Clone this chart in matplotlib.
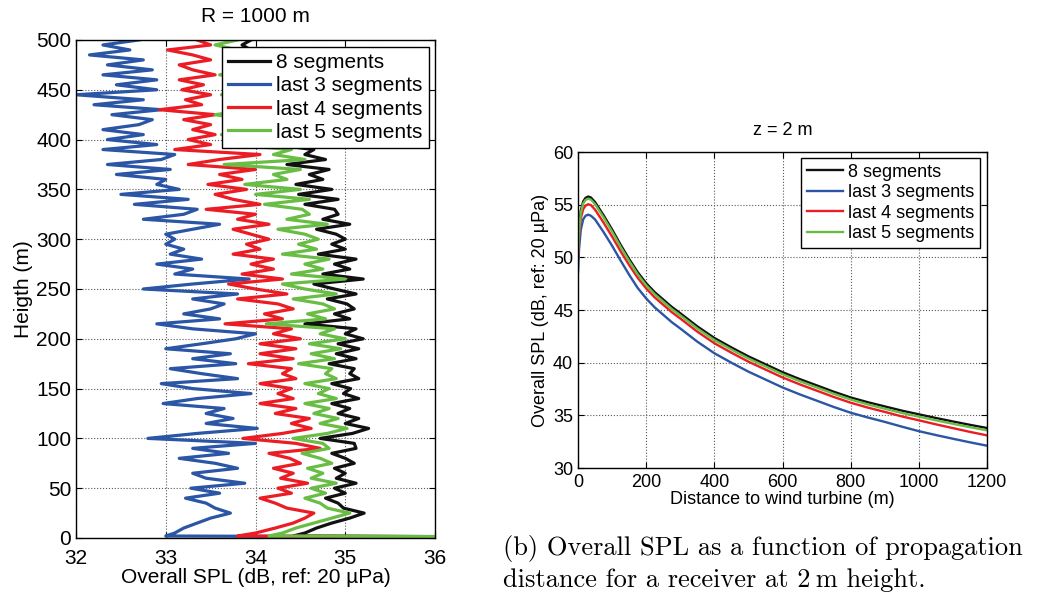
import numpy as np
import matplotlib
matplotlib.use("Agg")
import matplotlib.pyplot as plt

plt.rcParams['font.family'] = ['Liberation Sans', 'DejaVu Sans']

# ---- left panel: SPL profile vs height at R = 1000 m ----
heights = np.r_[0, 2, np.arange(5, 501, 5)]

spl_8seg = [40.0, 34.42, 34.55, 34.68, 34.85, 35.05, 35.21, 34.98, 34.92, 34.78, 35.0,
            34.88, 35.12, 34.9, 35.0, 34.88, 35.1, 35.0, 34.85, 35.12, 35.1,
            34.72, 35.08, 35.26, 35.0, 35.15, 34.92, 35.05, 34.85, 35.15, 34.98,
            35.06, 34.85, 35.15, 35.05, 35.1, 34.82, 35.12, 34.9, 35.15, 34.92,
            35.2, 35.0, 35.12, 34.55, 35.05, 34.88, 35.1, 35.02, 34.8, 35.12,
            34.88, 34.65, 35.2, 34.75, 35.05, 34.88, 35.12, 34.7, 35.0, 34.85,
            35.0, 34.9, 34.68, 35.05, 34.75, 34.92, 34.88, 34.55, 34.92, 34.48,
            34.85, 34.45, 34.75, 34.6, 34.82, 34.35, 34.78, 34.55, 34.65, 34.2,
            34.2, 33.95, 34.25, 34.05, 34.2, 33.9, 34.25, 34.0, 34.15, 33.95,
            34.2, 34.05, 34.25, 33.92, 34.15, 33.95, 34.1, 33.95, 33.95, 33.85,
            33.95]

spl_last3 = [40.0, 33.0, 33.1, 33.2, 33.35, 33.5, 33.72, 33.55, 33.45, 33.22, 33.6,
             33.28, 33.88, 33.45, 33.3, 33.8, 33.55, 33.15, 33.7, 33.3, 34.0,
             32.8, 33.35, 34.02, 33.45, 33.75, 33.45, 33.65, 32.97, 33.35, 33.95,
             33.3, 32.95, 33.8, 33.4, 33.05, 33.78, 33.3, 33.72, 33.0, 33.4,
             33.78, 34.0, 33.3, 32.9, 33.6, 33.2, 33.5, 33.65, 33.3, 33.8,
             32.75, 33.3, 33.93, 33.1, 33.3, 32.9, 33.4, 33.05, 33.2, 33.0,
             33.1, 33.0, 33.3, 33.6, 32.75, 33.2, 33.35, 32.65, 33.25, 32.5,
             33.15, 32.9, 33.0, 32.45, 33.05, 32.35, 32.95, 33.1, 32.3, 32.9,
             32.35, 32.75, 32.3, 32.7, 32.85, 32.4, 32.95, 32.2, 32.75, 32.0,
             32.9, 32.45, 32.9, 32.3, 32.85, 32.35, 32.75, 32.15, 32.6, 32.3,
             32.7]

spl_last4 = [40.0, 33.8, 34.0, 34.22, 34.42, 34.55, 34.65, 34.35, 34.22, 34.05, 34.4,
             34.25, 34.58, 34.28, 34.42, 34.2, 34.5, 34.38, 34.15, 34.72, 34.45,
             33.86, 34.3, 34.62, 34.4, 34.6, 34.22, 34.45, 34.05, 34.42, 34.25,
             34.4, 34.05, 34.45, 34.3, 34.4, 33.92, 34.42, 34.05, 34.45, 34.05,
             34.5, 34.2, 34.4, 33.66, 34.3, 34.1, 34.42, 34.25, 33.8, 34.35,
             34.0, 33.7, 34.3, 33.85, 34.2, 33.95, 34.2, 33.75, 34.05, 33.9,
             34.15, 33.95, 33.75, 34.15, 33.8, 34.0, 33.45, 34.05, 33.75, 33.55,
             33.9, 33.47, 33.85, 33.6, 34.0, 33.25, 33.6, 34.05, 33.1, 33.5,
             33.25, 33.55, 33.3, 33.5, 33.2, 33.55, 32.93, 33.4, 33.22, 33.5,
             33.18, 33.42, 33.15, 33.55, 33.3, 33.15, 33.5, 33.3, 33.02, 33.5,
             33.35]

spl_last5 = [40.0, 34.15, 34.3, 34.45, 34.65, 34.85, 35.05, 34.8, 34.72, 34.55, 34.78,
             34.62, 34.9, 34.62, 34.75, 34.58, 34.85, 34.72, 34.52, 34.82, 34.75,
             34.42, 34.8, 35.02, 34.72, 34.92, 34.65, 34.82, 34.55, 34.9, 34.7,
             34.82, 34.55, 34.9, 34.78, 34.85, 34.48, 34.88, 34.62, 34.95, 34.6,
             35.0, 34.72, 34.88, 34.12, 34.78, 34.58, 34.88, 34.75, 34.42, 34.9,
             34.55, 34.3, 35.0, 34.4, 34.75, 34.55, 34.82, 34.3, 34.68, 34.48,
             34.7, 34.55, 34.25, 34.8, 34.35, 34.6, 34.52, 34.1, 34.6, 34.0,
             34.5, 33.88, 34.35, 34.2, 34.5, 33.65, 34.55, 34.2, 34.4, 33.7,
             33.9, 33.62, 33.95, 33.75, 33.9, 33.55, 33.95, 33.7, 33.85, 33.62,
             33.9, 33.75, 33.95, 33.6, 33.85, 33.65, 33.9, 33.7, 33.8, 33.55,
             33.8]

# ---- right panel: SPL vs distance at z = 2 m ----
distance = [0, 3, 8, 15, 22, 30, 38, 50, 75, 100, 125, 150, 175, 200, 225, 250,
            275, 300, 350, 400, 450, 500, 550, 600, 650, 700, 750, 800, 850,
            900, 950, 1000, 1050, 1100, 1150, 1200]

dist_8seg = [50.7, 52.6, 54.4, 55.3, 55.65, 55.78, 55.68, 55.25, 54.0, 52.65,
             51.2, 49.85, 48.6, 47.55, 46.7, 46.0, 45.3, 44.7, 43.45, 42.35,
             41.45, 40.6, 39.85, 39.1, 38.45, 37.85, 37.25, 36.7, 36.25, 35.85,
             35.45, 35.1, 34.75, 34.42, 34.1, 33.8]
dist_last3 = [48.6, 50.8, 52.6, 53.6, 53.95, 54.06, 53.95, 53.6, 52.4, 51.1,
              49.7, 48.35, 47.1, 46.1, 45.25, 44.55, 43.85, 43.25, 42.0, 40.9,
              40.0, 39.15, 38.4, 37.65, 37.0, 36.4, 35.8, 35.25, 34.8, 34.38,
              33.93, 33.5, 33.13, 32.78, 32.44, 32.12]
dist_last4 = [50.0, 51.9, 53.67, 54.57, 54.92, 55.05, 54.96, 54.53, 53.3, 51.97,
              50.58, 49.28, 48.07, 47.05, 46.2, 45.5, 44.8, 44.2, 42.95, 41.85,
              40.95, 40.1, 39.35, 38.6, 37.95, 37.35, 36.75, 36.2, 35.74, 35.33,
              34.9, 34.53, 34.15, 33.79, 33.43, 33.1]
dist_last5 = [50.45, 52.4, 54.2, 55.1, 55.45, 55.58, 55.48, 55.05, 53.8, 52.45,
              51.0, 49.65, 48.4, 47.35, 46.5, 45.8, 45.1, 44.5, 43.25, 42.15,
              41.25, 40.4, 39.65, 38.9, 38.25, 37.65, 37.05, 36.5, 36.04, 35.63,
              35.23, 34.88, 34.53, 34.2, 33.88, 33.58]

labels = ['8 segments', 'last 3 segments', 'last 4 segments', 'last 5 segments']
colors = ['#111111', '#2b55a5', '#ec1c24', '#69bd45']


def style_axes(ax, fs, xpad):
    ax.grid(True, linestyle=':', color='0.35', linewidth=0.8)
    ax.tick_params(direction='in', top=True, right=True, length=4,
                   labelsize=fs, width=0.8)
    ax.tick_params(axis='x', pad=xpad)
    for s in ax.spines.values():
        s.set_linewidth(1.0)
        s.set_color('black')


fig = plt.figure(figsize=(10.37, 5.95), dpi=100)

# left
ax1 = fig.add_axes([0.0733, 0.0958, 0.3462, 0.837])
for vals, lab, c in zip([spl_8seg, spl_last3, spl_last4, spl_last5], labels, colors):
    ax1.plot(vals, heights, color=c, lw=2.3, label=lab)
ax1.set_xlim(32, 36)
ax1.set_ylim(0, 500)
ax1.set_xticks([32, 33, 34, 35, 36])
ax1.set_yticks(np.arange(0, 501, 50))
style_axes(ax1, 15, 8)
ax1.set_xlabel('Overall SPL (dB, ref: 20 µPa)', fontsize=15, labelpad=0)
ax1.set_ylabel('Heigth (m)', fontsize=15, labelpad=2)
ax1.set_title('R = 1000 m', fontsize=15, pad=13)
leg1 = ax1.legend(loc='upper right', bbox_to_anchor=(0.982, 0.986), fontsize=15,
                  borderaxespad=0, fancybox=False, framealpha=1, edgecolor='black',
                  handlelength=2.0, handletextpad=0.3, labelspacing=0.2,
                  borderpad=0.3)
leg1.get_frame().set_linewidth(1.0)

# right
ax2 = fig.add_axes([0.5574, 0.2134, 0.3944, 0.531])
for vals, lab, c in zip([dist_8seg, dist_last3, dist_last4, dist_last5], labels, colors):
    ax2.plot(distance, vals, color=c, lw=1.7, label=lab)
ax2.set_xlim(0, 1200)
ax2.set_ylim(30, 60)
ax2.set_xticks(np.arange(0, 1201, 200))
ax2.set_yticks(np.arange(30, 61, 5))
style_axes(ax2, 13, 4)
ax2.set_xlabel('Distance to wind turbine (m)', fontsize=13, labelpad=0)
ax2.set_ylabel('Overall SPL (dB, ref: 20 µPa)', fontsize=13, labelpad=3)
ax2.set_title('z = 2 m', fontsize=13, pad=12)
leg2 = ax2.legend(loc='upper right', bbox_to_anchor=(0.983, 0.981), fontsize=13,
                  borderaxespad=0, fancybox=False, framealpha=1, edgecolor='black',
                  handlelength=2.0, handletextpad=0.3, labelspacing=0.2,
                  borderpad=0.3)
leg2.get_frame().set_linewidth(1.0)

# caption
fig.text(0.485, 1 - 548 / 595, '(b) Overall SPL as a function of propagation',
         family='cmr10', fontsize=19, va='center', ha='left')
fig.text(0.485, 1 - 580 / 595, 'distance for a receiver at 2\u2009m height.',
         family=['cmr10', 'DejaVu Serif'], fontsize=19, va='center', ha='left')

fig.savefig('out.png', dpi=100)
